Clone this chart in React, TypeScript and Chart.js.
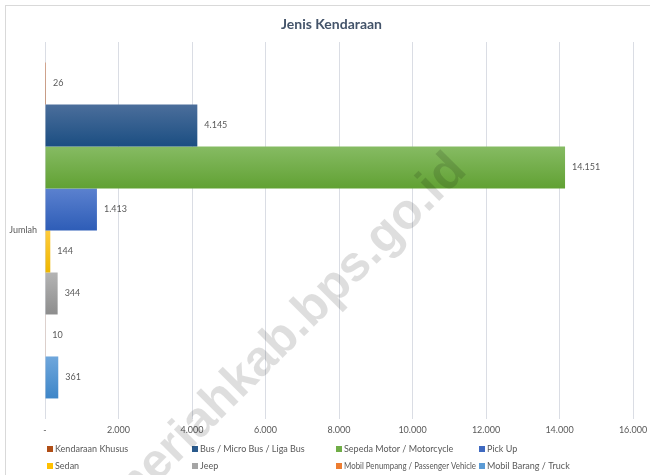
import React, { useEffect, useRef } from "react";
import { Chart, registerables } from "chart.js";

Chart.register(...registerables);

const chartTitle = "Jenis Kendaraan";
const categories = ["Jumlah"];
const seriesNames = [
  "Kendaraan Khusus",
  "Bus / Micro Bus / Liga Bus",
  "Sepeda Motor / Motorcycle",
  "Pick Up",
  "Sedan",
  "Jeep",
  "Mobil Penumpang / Passenger Vehicle",
  "Mobil Barang / Truck",
];
const seriesValues = [26, 4145, 14151, 1413, 144, 344, 10, 361];
const xTickValues = [0, 2000, 4000, 6000, 8000, 10000, 12000, 14000, 16000];
const watermarkText = "meriahkab.bps.go.id";

// [top, bottom, legend swatch]
const seriesColors: string[][] = [
  ["#c9632a", "#a8480f", "#b04e16"],
  ["#4b6e9b", "#1b4e82", "#2a5a8c"],
  ["#86bb63", "#61a133", "#70ad47"],
  ["#5b81cf", "#2e5db7", "#3f69c0"],
  ["#ffcc3c", "#eeb600", "#ffc000"],
  ["#b4b4b4", "#8d8d8d", "#a5a5a5"],
  ["#f08a45", "#e06e20", "#ed7d31"],
  ["#6fa7dc", "#3e86c8", "#5b9bd5"],
];

const fmt = (n: number) =>
  n === 0 ? "-" : Math.round(n).toString().replace(/\B(?=(\d{3})+(?!\d))/g, ".");

const FONT = "Lato, 'Open Sans', sans-serif";
const TEXT_GREY = "#595959";

const decoPlugin = {
  id: "deco",
  beforeDraw(chart: any) {
    const { ctx, width, height } = chart;
    ctx.save();
    ctx.fillStyle = "#ffffff";
    ctx.fillRect(0, 0, width, height);
    ctx.strokeStyle = "#d9d9d9";
    ctx.lineWidth = 1;
    ctx.strokeRect(5.5, 5.5, width + 10, height + 10);
    ctx.fillStyle = "#44546a";
    ctx.font = `bold 14px ${FONT}`;
    ctx.textAlign = "center";
    ctx.textBaseline = "middle";
    ctx.fillText(chartTitle, 331.5, 24);
    ctx.restore();
  },
  beforeDatasetsDraw(chart: any) {
    const { ctx } = chart;
    chart.data.datasets.forEach((_: any, i: number) => {
      const meta = chart.getDatasetMeta(i);
      meta.data.forEach((el: any) => {
        const top = el.y - el.height / 2;
        const g = ctx.createLinearGradient(0, top, 0, top + el.height);
        g.addColorStop(0, seriesColors[i][0]);
        g.addColorStop(1, seriesColors[i][1]);
        el.options = Object.assign({}, el.options, { backgroundColor: g });
      });
    });
  },
  afterDatasetsDraw(chart: any) {
    const { ctx } = chart;
    ctx.save();
    ctx.fillStyle = TEXT_GREY;
    ctx.font = `9px ${FONT}`;
    ctx.textAlign = "left";
    ctx.textBaseline = "middle";
    chart.data.datasets.forEach((ds: any, i: number) => {
      const meta = chart.getDatasetMeta(i);
      meta.data.forEach((el: any, j: number) => {
        ctx.fillText(fmt(ds.data[j]), el.x + 7, el.y);
      });
    });
    ctx.restore();
  },
  afterDraw(chart: any) {
    const { ctx } = chart;
    ctx.save();
    // legend
    const colX = [47, 192, 336, 479];
    const rowY = [449, 466];
    ctx.font = `9px ${FONT}`;
    ctx.textBaseline = "middle";
    ctx.textAlign = "left";
    seriesNames.forEach((name, i) => {
      const x = colX[i % 4];
      const y = rowY[Math.floor(i / 4)];
      ctx.fillStyle = seriesColors[i][2];
      ctx.fillRect(x, y - 3, 6, 6);
      ctx.fillStyle = TEXT_GREY;
      ctx.fillText(name, x + 8, y, 132);
    });
    // watermark
    ctx.translate(287, 334);
    ctx.rotate(-Math.PI / 4);
    ctx.font = `bold 50px 'Liberation Sans', Arial, sans-serif`;
    const w = ctx.measureText(watermarkText).width;
    const s = 485 / w;
    ctx.scale(s, s);
    ctx.fillStyle = "rgba(0,0,0,0.13)";
    ctx.textAlign = "center";
    ctx.textBaseline = "middle";
    ctx.fillText(watermarkText, 0, 0);
    ctx.restore();
  },
};

export default function App() {
  const ref = useRef<HTMLCanvasElement | null>(null);
  useEffect(() => {
    if (!ref.current) return;
    Chart.defaults.font.family = FONT;
    const chart = new Chart(ref.current, {
      type: "bar",
      data: {
        labels: categories,
        datasets: seriesNames.map((name, i) => ({
          label: name,
          data: [seriesValues[i]],
          backgroundColor: (c: any) => seriesColors[c.datasetIndex][2],
          borderWidth: 0,
          barPercentage: 1,
          categoryPercentage: 0.891,
        })),
      },
      options: {
        indexAxis: "y",
        responsive: false,
        animation: false,
        layout: { padding: { top: 42, right: 17, bottom: 0, left: 0 } },
        plugins: {
          legend: { display: false },
          title: { display: false },
          tooltip: { enabled: false },
        },
        scales: {
          x: {
            type: "linear",
            min: xTickValues[0],
            max: xTickValues[xTickValues.length - 1],
            afterBuildTicks: (s: any) => {
              s.ticks = xTickValues.map((v) => ({ value: v }));
            },
            ticks: {
              callback: (v: any) => fmt(Number(v)),
              color: TEXT_GREY,
              font: { size: 9, family: FONT },
              padding: 6,
              maxRotation: 0,
            },
            grid: { color: "#dadde4", drawTicks: false },
            border: { display: false },
            afterFit: (s: any) => {
              s.height = 56;
              s.paddingLeft = 0;
              s.paddingRight = 0;
            },
          },
          y: {
            type: "category",
            grid: { display: false, drawTicks: false },
            border: { display: false },
            ticks: {
              color: TEXT_GREY,
              font: { size: 9, family: FONT },
              padding: 8,
            },
            afterFit: (s: any) => {
              s.width = 45;
              s.paddingTop = 0;
              s.paddingBottom = 0;
            },
          },
        },
      },
      plugins: [decoPlugin],
    } as any);
    return () => chart.destroy();
  }, []);
  return (
    <div style={{ position: "absolute", left: 0, top: 0, width: 650, height: 475 }}>
      <canvas ref={ref} width={650} height={475} />
    </div>
  );
}
